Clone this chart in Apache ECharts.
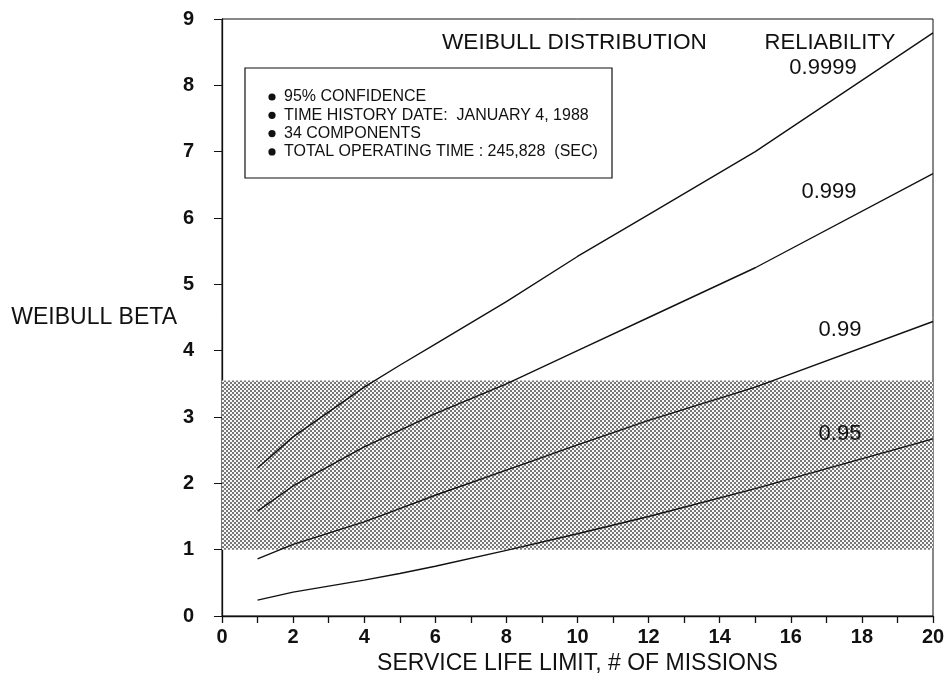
<!DOCTYPE html>
<html><head><meta charset="utf-8">
<script src="https://cdn.jsdelivr.net/npm/echarts/dist/echarts.min.js"></script>
<style>html,body{margin:0;padding:0;background:#fff}#c{width:951px;height:680px}</style>
</head><body><div id="c"></div>
<script>
// ---- data ----
const missions   = [1, 2, 4, 5, 6, 8, 10, 12, 15, 20];
const rel9999    = [2.23, 2.70, 3.45, 3.78, 4.10, 4.74, 5.42, 6.05, 7.00, 8.79];
const rel999     = [1.58, 1.96, 2.55, 2.80, 3.05, 3.50, 4.00, 4.50, 5.25, 6.67];
const rel99      = [0.86, 1.08, 1.42, 1.62, 1.82, 2.20, 2.58, 2.95, 3.45, 4.44];
const rel95      = [0.24, 0.36, 0.54, 0.64, 0.75, 0.99, 1.24, 1.50, 1.92, 2.67];
const seriesNames = ['0.9999', '0.999', '0.99', '0.95'];
const bandRange  = [1.0, 3.55];
const xRange     = [0, 20];
const yRange     = [0, 9];
const notes = ['95% CONFIDENCE', 'TIME HISTORY DATE:  JANUARY 4, 1988', '34 COMPONENTS', 'TOTAL OPERATING TIME : 245,828  (SEC)'];

const FONT = '"Liberation Sans", Arial, Helvetica, sans-serif';

// stipple pattern for the shaded band
const pc = document.createElement('canvas');
pc.width = 4; pc.height = 4;
const pctx = pc.getContext('2d');
pctx.fillStyle = '#f8f8f8'; pctx.fillRect(0, 0, 4, 4);
pctx.fillStyle = '#777777';
pctx.fillRect(0, 0, 2, 2); pctx.fillRect(2, 2, 2, 2);

const allSeries = [rel9999, rel999, rel99, rel95];
const lineSeries = allSeries.map((vals, i) => ({
  name: seriesNames[i],
  type: 'line',
  z: 3,
  symbol: 'none',
  silent: true,
  lineStyle: { color: '#111', width: 1.4 },
  data: missions.map((m, k) => [m, vals[k]])
}));

const chart = echarts.init(document.getElementById('c'), null, { renderer: 'canvas' });

const labelText = (txt, x, y, size, align) => ({
  type: 'text', x: x, y: y, z: 10,
  style: { text: txt, fill: '#111', font: size + 'px ' + FONT, textAlign: align || 'center', textVerticalAlign: 'middle' }
});

const graphics = [
  labelText('WEIBULL DISTRIBUTION', 442, 43, 22.6, 'left'),
  labelText('RELIABILITY', 830, 43, 22),
  labelText('0.9999', 823, 68, 22),
  labelText('0.999', 829, 192, 22),
  labelText('0.99', 840, 330, 22),
  labelText('0.95', 840, 434, 22),
  { type: 'rect', z: 10, shape: { x: 245, y: 68, width: 367, height: 110 },
    style: { fill: '#fff', stroke: '#111', lineWidth: 1.2 } }
];
notes.forEach((t, i) => {
  const y = 97 + i * 18.3;
  graphics.push({ type: 'circle', z: 11, shape: { cx: 272, cy: y, r: 3.6 }, style: { fill: '#111' } });
  graphics.push(labelText(t, 284, y, 16, 'left'));
});

chart.setOption({
  animation: false,
  backgroundColor: '#fff',
  grid: { left: 222, right: 18, top: 19, bottom: 64, show: true, borderColor: '#111', borderWidth: 1, backgroundColor: 'transparent' },
  xAxis: {
    type: 'value', min: xRange[0], max: xRange[1], interval: 1,
    name: 'SERVICE LIFE LIMIT, # OF MISSIONS', nameLocation: 'middle', nameGap: 36,
    nameTextStyle: { fontFamily: FONT, fontSize: 23, color: '#111' },
    axisLine: { lineStyle: { color: '#111', width: 1.3 } },
    axisTick: { show: true, inside: false, length: 7, lineStyle: { color: '#111', width: 1.3 } },
    axisLabel: { fontFamily: FONT, fontSize: 20, fontWeight: 'bold', color: '#111', margin: 11,
      formatter: v => (v % 2 === 0 ? String(v) : '') },
    splitLine: { show: false }
  },
  yAxis: {
    type: 'value', min: yRange[0], max: yRange[1], interval: 1,
    name: 'WEIBULL BETA', nameLocation: 'middle', nameRotate: 0, nameGap: 44,
    nameTextStyle: { fontFamily: FONT, fontSize: 23, color: '#111', align: 'right', verticalAlign: 'middle' },
    axisLine: { show: true, lineStyle: { color: '#111', width: 1.3 } },
    axisTick: { show: true, inside: false, length: 8, lineStyle: { color: '#111', width: 1 } },
    axisLabel: { fontFamily: FONT, fontSize: 20, fontWeight: 'bold', color: '#111', margin: 28 },
    splitLine: { show: false }
  },
  graphic: graphics,
  series: [
    { name: 'band', type: 'line', z: 1, data: [], silent: true,
      markArea: { silent: true, itemStyle: { color: { image: pc, repeat: 'repeat' } },
        data: [[{ yAxis: bandRange[0] }, { yAxis: bandRange[1] }]] } }
  ].concat(lineSeries)
});
</script>
</body></html>
